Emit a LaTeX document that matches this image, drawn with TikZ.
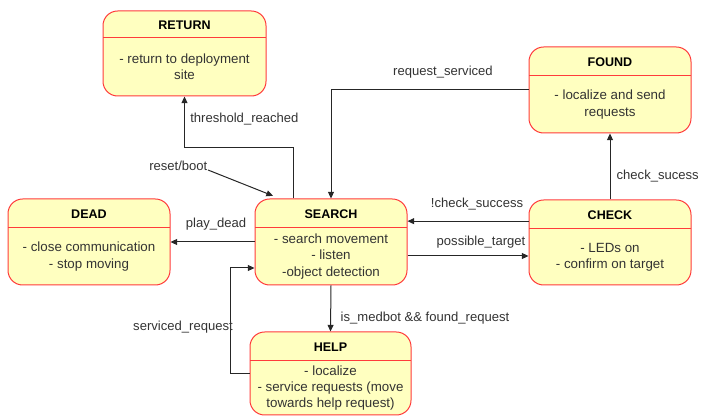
\documentclass[tikz,border=0pt]{standalone}
\usepackage{fontspec}
\setmainfont{Liberation Sans}
\usetikzlibrary{arrows.meta}
\definecolor{statefill}{HTML}{FFFFC0}
\definecolor{statestroke}{HTML}{FF3B3B}
\definecolor{labeltext}{HTML}{333333}
\tikzset{
  sbox/.style={draw=statestroke, fill=statefill, line width=0.75pt, rounded corners=11pt, inner sep=0pt},
  sline/.style={draw=statestroke, line width=0.75pt},
  stitle/.style={font=\fontsize{9.4}{11}\selectfont\bfseries, text=black, inner sep=0pt},
  sbody/.style={font=\fontsize{10}{12.2}\selectfont, text=labeltext, align=center, inner sep=0pt},
  edge/.style={draw=black!85, line width=0.75pt, -{Triangle[length=5pt,width=4.5pt]}},
  elabel/.style={font=\fontsize{9.8}{11}\selectfont, text=labeltext, inner sep=0pt},
}
% state box: name, left, top, right, bottom, header y, title, body
\newcommand\statebox[8]{%
  \node[sbox, minimum width={(#4-#2)*0.75pt}, minimum height={(#5-#3)*0.75pt}] (#1) at ({(#2+#4)/2},{(#3+#5)/2}) {};
  \draw[sline] (#2,#6) -- (#4,#6);
  \node[stitle] (#1-t) at ({(#2+#4)/2},{(#3+#6)/2+1}) {#7};
  \node[sbody] (#1-b) at ({(#2+#4)/2},{(#6+#5)/2}) {#8};
}
\begin{document}
\begin{tikzpicture}[x=0.75pt,y=-0.75pt]
  \useasboundingbox (0,0) rectangle (701,416);

  \statebox{return}{103}{11}{266}{96}{38}{RETURN}{- return to deployment\\site}
  \statebox{found}{529}{47}{691}{133}{76}{FOUND}{- localize and send\\requests}
  \statebox{dead}{8}{199}{170}{285}{228}{DEAD}{- close communication\\- stop moving}
  \statebox{search}{255}{199}{407}{285}{228}{SEARCH}{- search movement\\- listen\\-object detection}
  \statebox{check}{529}{200}{691}{285}{229}{CHECK}{- LEDs on\\- confirm on target}
  \statebox{help}{250}{332}{411}{415}{361}{HELP}{- localize\\- service requests (move\\towards help request)}

  % transitions
  \draw[edge] ([xshift=-28.5pt]search.north) -- ++(0,-51) -| (return.south);
  \coordinate (bootstart) at (208,170);
  \draw[edge] (bootstart) -- ([xshift=-43.5pt,yshift=2pt]search.north);
  \draw[edge] (found.west) -| (search.north);
  \draw[edge] (check.north) -- (found.south);
  \draw[edge] ([yshift=16pt]check.west) -- ([yshift=16pt]check.west -| search.east);
  \draw[edge] ([yshift=-10.5pt]search.east) -- ([yshift=-10.5pt]search.east -| check.west);
  \draw[edge] (search.west) -- (dead.east);
  \draw[edge] (search.south) -- (help.north);
  \draw[edge] (help.west) -- ++(-19,0) |- ([yshift=-19.5pt]search.west);

  % transition labels
  \node[elabel, anchor=west] (lthr) at (190,119) {threshold\_reached};
  \node[elabel, anchor=west] (lboot) at (149,166) {reset/boot};
  \node[elabel] (lreq) at (443,72) {request\_serviced};
  \node[elabel, anchor=east] (lsuc) at (699,176) {check\_sucess};
  \node[elabel] (lnot) at (477,204) {!check\_success};
  \node[elabel] (lpos) at (481,242) {possible\_target};
  \node[elabel] (ldead) at (216,224) {play\_dead};
  \node[elabel] (lmed) at (425,318) {is\_medbot \&\& found\_request};
  \node[elabel] (lserv) at (183,327) {serviced\_request};
\end{tikzpicture}
\end{document}
